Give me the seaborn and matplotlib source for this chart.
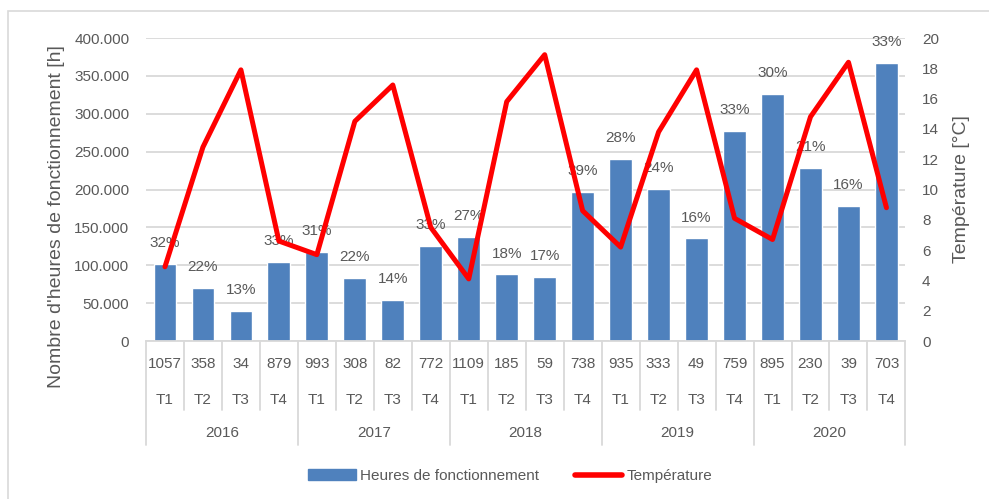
import numpy as np
import pandas as pd
import matplotlib
matplotlib.use('Agg')
import matplotlib.pyplot as plt
import matplotlib.transforms as mtransforms
from matplotlib.lines import Line2D
from matplotlib.patches import Patch, Rectangle
import seaborn as sns

sns.set_theme(style='white')
plt.rcParams['font.family'] = ['Liberation Sans', 'DejaVu Sans']

# donnees
annees = ['2016', '2017', '2018', '2019', '2020']
trimestres = ['T1', 'T2', 'T3', 'T4']
heures = [102000, 70000, 40000, 104000, 118000, 83000, 54000, 126000,
          137000, 88000, 84500, 197000, 240000, 201000, 135500, 277500,
          326500, 229000, 178000, 367000]
temperature = [4.9, 12.8, 17.9, 6.6, 5.7, 14.5, 16.9, 7.5,
               4.1, 15.8, 18.9, 8.6, 6.2, 13.8, 17.9, 8.1,
               6.7, 14.8, 18.4, 8.8]
nombres = [1057, 358, 34, 879, 993, 308, 82, 772, 1109, 185, 59, 738,
           935, 333, 49, 759, 895, 230, 39, 703]
pourcentages = [32, 22, 13, 33, 31, 22, 14, 33, 27, 18, 17, 39,
                28, 24, 16, 33, 30, 21, 16, 33]

periode = [f'{a} {t}' for a in annees for t in trimestres]
df = pd.DataFrame({
    'periode': periode,
    'rang': range(len(periode)),
    'heures': heures,
    'temperature': temperature,
})

gris_texte = '#595959'
gris_ligne = '#d9d9d9'
bleu = '#4f81bd'
rouge = '#ff0000'

fig = plt.figure(figsize=(9.89, 4.99), dpi=100)
fig.subplots_adjust(left=0.1476, right=0.9155, bottom=0.3166, top=0.9238)
ax = fig.add_subplot(111)

# cadre du graphique
fig.patches.append(Rectangle((7.5 / 989, -0.1), 1.2, (499 - 11.5) / 499 + 0.1,
                             transform=fig.transFigure, fill=False,
                             edgecolor=gris_ligne, linewidth=1.2))

sns.barplot(data=df, x='periode', y='heures', color=bleu, saturation=1,
            width=0.6, ax=ax)
ax.set_xlim(-0.5, len(periode) - 0.5)
ax.set_ylim(0, 400000)
ax.set_yticks(np.arange(0, 400001, 50000))
ax.set_yticklabels([f'{int(v):,}'.replace(',', '.') for v in ax.get_yticks()])
ax.grid(axis='y', color=gris_ligne, linewidth=1.3)
ax.set_axisbelow(True)
ax.set_xticks([])
ax.set_xlabel('')
ax.set_ylabel("Nombre d'heures de fonctionnement [h]", fontsize=14, color=gris_texte)
ax.yaxis.set_label_coords(-0.106, 0.41)
ax.tick_params(axis='y', colors=gris_texte, labelsize=11, length=0, pad=12)
for s in ['top', 'left', 'right']:
    ax.spines[s].set_visible(False)
ax.spines['bottom'].set_color(gris_ligne)
ax.spines['bottom'].set_linewidth(1.3)

# etiquettes de pourcentage
for i, (h, p) in enumerate(zip(heures, pourcentages)):
    ax.annotate(f'{p}%', (i, h), xytext=(0, 15), textcoords='offset points',
                ha='center', va='center', fontsize=11, color=gris_texte)

# axes des categories a plusieurs niveaux
trans = mtransforms.blended_transform_factory(ax.transData, ax.transAxes)
for i, (n, per) in enumerate(zip(nombres, periode)):
    ax.text(i, -0.076, str(n), transform=trans, ha='center', va='center',
            fontsize=11, color=gris_texte)
    ax.text(i, -0.195, per.split()[1], transform=trans, ha='center', va='center',
            fontsize=11, color=gris_texte)
for k in range(len(periode) + 1):
    x = k - 0.5
    bas = -0.343 if k % len(trimestres) == 0 else -0.228
    ax.add_line(Line2D([x, x], [0, bas], transform=trans, color=gris_ligne,
                       linewidth=1.3, clip_on=False))
for j, a in enumerate(annees):
    centre = j * len(trimestres) + (len(trimestres) - 1) / 2
    ax.text(centre, -0.302, a, transform=trans, ha='center', va='center',
            fontsize=11, color=gris_texte)

# temperature sur l'axe secondaire
ax2 = ax.twinx()
sns.lineplot(data=df, x='rang', y='temperature', color=rouge, linewidth=3.6,
             ax=ax2, solid_joinstyle='round', solid_capstyle='round')
ax2.set_xlim(-0.5, len(periode) - 0.5)
ax2.set_ylim(0, 20)
ax2.set_yticks(np.arange(0, 21, 2))
ax2.set_ylabel('Température [°C]', fontsize=14, color=gris_texte)
ax2.yaxis.set_label_coords(1.063, 0.5)
ax2.tick_params(axis='y', colors=gris_texte, labelsize=11, length=0, pad=12)
ax2.set_xlabel('')
for s in ['top', 'left', 'right', 'bottom']:
    ax2.spines[s].set_visible(False)
ax2.grid(False)

handles = [Patch(facecolor=bleu, edgecolor=bleu),
           Line2D([0], [0], color=rouge, linewidth=4, solid_capstyle='round')]
fig.legend(handles, ['Heures de fonctionnement', 'Température'],
           loc='center', bbox_to_anchor=(0.516, 0.046), ncol=2, frameon=False,
           fontsize=11, labelcolor=gris_texte, handlelength=3.1,
           handleheight=0.75, handletextpad=0.3, columnspacing=2.3)

fig.savefig('out.png', dpi=100)
